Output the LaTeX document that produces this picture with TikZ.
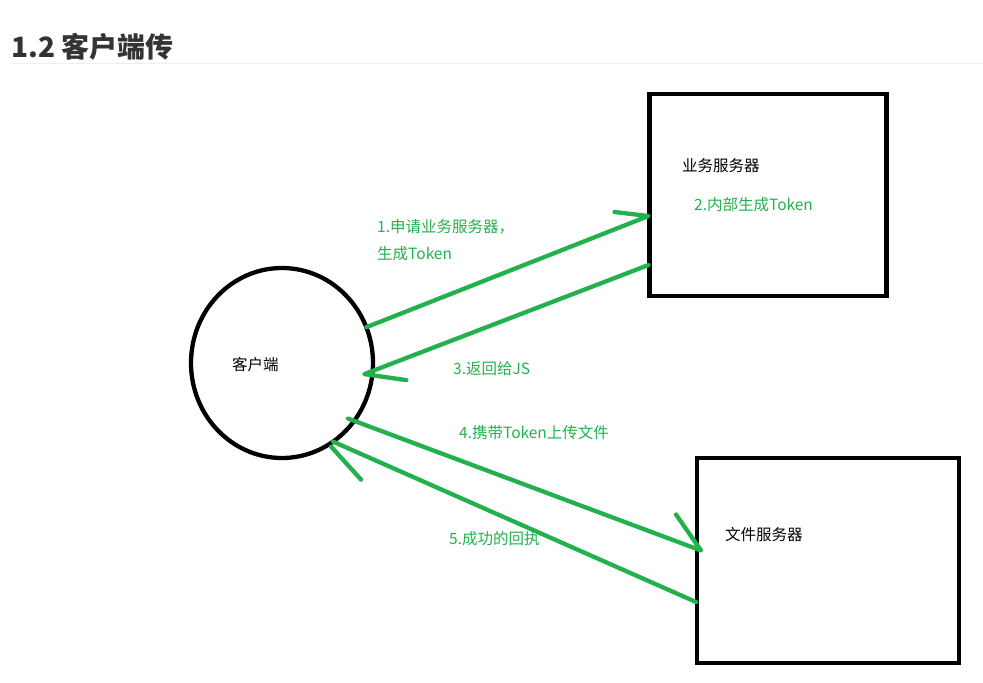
\documentclass[tikz,border=0pt]{standalone}
\usepackage{fontspec}
\usepackage{xcolor}
\usetikzlibrary{shapes.geometric,calc}
\newfontfamily\cjk{Noto Sans CJK SC}
\definecolor{colorFlow}{HTML}{22B14C}
\definecolor{colorHead}{HTML}{333333}
\definecolor{colorRule}{HTML}{EEEEEE}

\begin{document}
\begin{tikzpicture}[x=1pt,y=-1pt,every node/.append style={font=\cjk\fontsize{15.5}{27}\selectfont,inner sep=0pt},term/.style={draw, ellipse, line width=4.3pt, outer sep=0pt, minimum width=182pt, minimum height=190pt},srv/.style={draw, rectangle, line width=4.5pt, outer sep=0pt},txt/.style={anchor=west, text=black},lbl/.style={anchor=west, align=left, text=colorFlow},flow/.style={draw=colorFlow, line width=4.3pt, line cap=round, line join=round},]
    \useasboundingbox (0,0) rectangle (983,683);
    % heading
    \node [anchor=west, text=colorHead, font=\cjk\bfseries\fontsize{28}{31}\selectfont] (title) at (11,47) {1.2 客户端传};
    \draw [colorRule, line width=1pt] (12,63) -- (983,63);
    % client and the two servers
    \node [term] (client) at (282,363) {};
    \node [txt] (clientname) at (232,365) {客户端};
    \node [srv, minimum width=237pt, minimum height=202pt] (biz) at (768,195) {};
    \node [txt] (bizname) at (682,166) {业务服务器};
    \node [srv, minimum width=262pt, minimum height=205pt] (file) at (828,560.5) {};
    \node [txt] (filename) at (725,535) {文件服务器};
    % ends of the hand drawn arrows
    \coordinate (tipA) at ($(biz.west)+(-1,21)$);
    \coordinate (tipB) at ($(client.-7)+(-8,0)$);
    \coordinate (tipC) at ($(file.west)+(4,-10)$);
    \coordinate (tipD) at (client.-57);
    \path[flow] (client.23) -- (tipA) -- ++(-34,-4);
    \path[flow] ($(biz.west)+(-1,70)$) -- (tipB) -- ++(42,6);
    \path[flow] ($(client.-40)+(-5,-4)$) -- (tipC) -- ++(-25,-36);
    \path[flow] ($(file.west)+(-1,41.5)$) -- (tipD);
    \path[flow] ($(tipD)+(-2,5)$) -- ++(30,33);
    % step labels
    \node [lbl] (step1) at (377,240) {1.申请业务服务器，\\生成Token};
    \node [lbl] (step2) at (694,205) {2.内部生成Token};
    \node [lbl] (step3) at (453,369) {3.返回给JS};
    \node [lbl] (step4) at (459,433) {4.携带Token上传文件};
    \node [lbl] (step5) at (449,539) {5.成功的回执};
\end{tikzpicture}
\end{document}
